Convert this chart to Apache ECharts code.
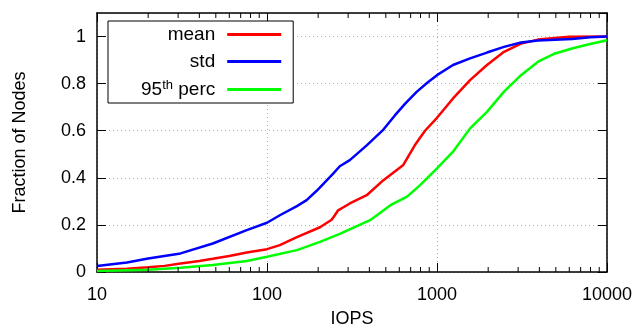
<!DOCTYPE html>
<html>
<head>
<meta charset="utf-8">
<script src="https://cdn.jsdelivr.net/npm/echarts@6/dist/echarts.min.js"></script>
<style>html,body{margin:0;padding:0;background:#fff}#c{width:639px;height:327px}</style>
</head>
<body>
<div id="c"></div>
<script>
// IOPS sample points (x) and fraction of nodes (y) for each CDF
const meanX = [10, 15, 20, 25, 31, 40, 48, 60, 76, 100, 119, 150, 205, 240, 250, 262, 307, 386, 484, 631, 740, 850, 1000, 1242, 1565, 1968, 2478, 3120, 3930, 4950, 6000, 10000];
const meanY = [0.010, 0.014, 0.020, 0.026, 0.036, 0.047, 0.056, 0.068, 0.083, 0.097, 0.114, 0.148, 0.190, 0.222, 0.240, 0.262, 0.291, 0.326, 0.390, 0.453, 0.538, 0.600, 0.655, 0.737, 0.815, 0.879, 0.935, 0.970, 0.987, 0.994, 0.999, 1.0];

const stdX = [10, 15, 20, 31, 48, 76, 100, 119, 150, 171, 196, 245, 268, 307, 386, 484, 565, 650, 759, 880, 1000, 1242, 1565, 1968, 2478, 3120, 3930, 6230, 8000, 10000];
const stdY = [0.025, 0.040, 0.057, 0.079, 0.121, 0.178, 0.209, 0.241, 0.280, 0.305, 0.345, 0.418, 0.449, 0.475, 0.538, 0.605, 0.665, 0.715, 0.765, 0.805, 0.836, 0.879, 0.907, 0.932, 0.956, 0.975, 0.983, 0.990, 0.997, 1.0];

const p95X = [10, 20, 31, 48, 76, 100, 150, 205, 270, 330, 404, 532, 667, 795, 1000, 1242, 1565, 1968, 2478, 3120, 3930, 4950, 6230, 7840, 10000];
const p95Y = [0.004, 0.010, 0.018, 0.030, 0.047, 0.065, 0.093, 0.128, 0.163, 0.192, 0.220, 0.284, 0.320, 0.369, 0.440, 0.511, 0.610, 0.680, 0.766, 0.836, 0.893, 0.928, 0.949, 0.967, 0.984];

const seriesNames = ['mean', 'std', '95th perc'];
const xTickLabels = [10, 100, 1000, 10000];
const yTickLabels = [0, 0.2, 0.4, 0.6, 0.8, 1];
const minorTickValues = [20, 30, 40, 50, 60, 70, 80, 90, 200, 300, 400, 500, 600, 700, 800, 900, 2000, 3000, 4000, 5000, 6000, 7000, 8000, 9000];

const FONT = "'Liberation Sans', Arial, sans-serif";
const FS = 18;
const zip = (xs, ys) => xs.map((x, i) => [x, ys[i]]);

const chart = echarts.init(document.getElementById('c'), null, {renderer: 'canvas'});

const axisCommon = {
  axisLine: {show: true, onZero: false, lineStyle: {color: '#000', width: 1.5}},
  axisTick: {show: true, inside: true, length: 9, lineStyle: {color: '#000', width: 1}}
};

chart.setOption({
  animation: false,
  grid: {left: 97, right: 32, top: 13, bottom: 55, containLabel: false, outerBoundsMode: 'none'},
  legend: {
    data: seriesNames,
    orient: 'vertical',
    align: 'right',
    left: 108,
    top: 21,
    padding: [4, 12, 4, 33],
    itemGap: 8,
    itemWidth: 54,
    itemHeight: 3,
    icon: 'rect',
    backgroundColor: '#fff',
    borderColor: '#000',
    borderWidth: 1,
    borderRadius: 0,
    textStyle: {
      fontFamily: FONT, fontSize: 19, color: '#000', padding: [0, 7, 0, 0],
      rich: {sup: {fontFamily: FONT, fontSize: 13, color: '#000', verticalAlign: 'top', padding: [0, 0, 8, 0]}}
    },
    formatter: n => n === '95th perc' ? '95{sup|th} perc' : n
  },
  xAxis: [
    Object.assign({
      type: 'log', logBase: 10, min: xTickLabels[0], max: xTickLabels[xTickLabels.length - 1],
      position: 'bottom',
      name: 'IOPS', nameLocation: 'middle', nameGap: 38,
      nameTextStyle: {fontFamily: FONT, fontSize: FS, color: '#000'},
      axisLabel: {fontFamily: FONT, fontSize: FS, color: '#000', margin: 14, formatter: v => String(Math.round(v))},
      splitLine: {show: true, lineStyle: {color: '#b0b0b0', type: [1, 3], width: 1}}
    }, axisCommon),
    Object.assign({
      type: 'log', logBase: 10, min: xTickLabels[0], max: xTickLabels[xTickLabels.length - 1],
      position: 'top', axisLabel: {show: false}, splitLine: {show: false}
    }, axisCommon)
  ],
  yAxis: [
    Object.assign({
      type: 'value', min: yTickLabels[0], max: 1.1, interval: 0.2,
      position: 'left',
      name: 'Fraction of Nodes', nameLocation: 'middle', nameGap: 68,
      nameTextStyle: {fontFamily: FONT, fontSize: FS, color: '#000'},
      axisLabel: {fontFamily: FONT, fontSize: FS, color: '#000', margin: 11, showMaxLabel: false,
        formatter: v => (v > 1.05 ? '' : String(Math.round(v * 10) / 10))},
      splitLine: {show: true, lineStyle: {color: '#b0b0b0', type: [1, 3], width: 1}}
    }, axisCommon),
    Object.assign({
      type: 'value', min: yTickLabels[0], max: 1.1, interval: 0.2,
      position: 'right', axisLabel: {show: false}, splitLine: {show: false}
    }, axisCommon)
  ],
  series: [
    {name: 'mean', type: 'line', data: zip(meanX, meanY), showSymbol: false, symbol: 'none',
      lineStyle: {color: '#ff0000', width: 2.5}, itemStyle: {color: '#ff0000'}, z: 3},
    {name: 'std', type: 'line', data: zip(stdX, stdY), showSymbol: false, symbol: 'none',
      lineStyle: {color: '#0000ff', width: 2.5}, itemStyle: {color: '#0000ff'}, z: 3},
    {name: '95th perc', type: 'line', data: zip(p95X, p95Y), showSymbol: false, symbol: 'none',
      lineStyle: {color: '#00ff00', width: 2.5}, itemStyle: {color: '#00ff00'}, z: 3},
    {
      name: 'minorTicks', type: 'custom', silent: true, z: 4,
      data: minorTickValues,
      renderItem: (params, api) => {
        const v = api.value(0);
        const b = api.coord([v, 0]);
        const t = api.coord([v, 1.1]);
        return {type: 'group', children: [
          {type: 'line', shape: {x1: b[0], y1: b[1], x2: b[0], y2: b[1] - 5}, style: {stroke: '#000', lineWidth: 1}},
          {type: 'line', shape: {x1: t[0], y1: t[1], x2: t[0], y2: t[1] + 5}, style: {stroke: '#000', lineWidth: 1}}
        ]};
      },
      encode: {x: 0}
    }
  ]
});
</script>
</body>
</html>
